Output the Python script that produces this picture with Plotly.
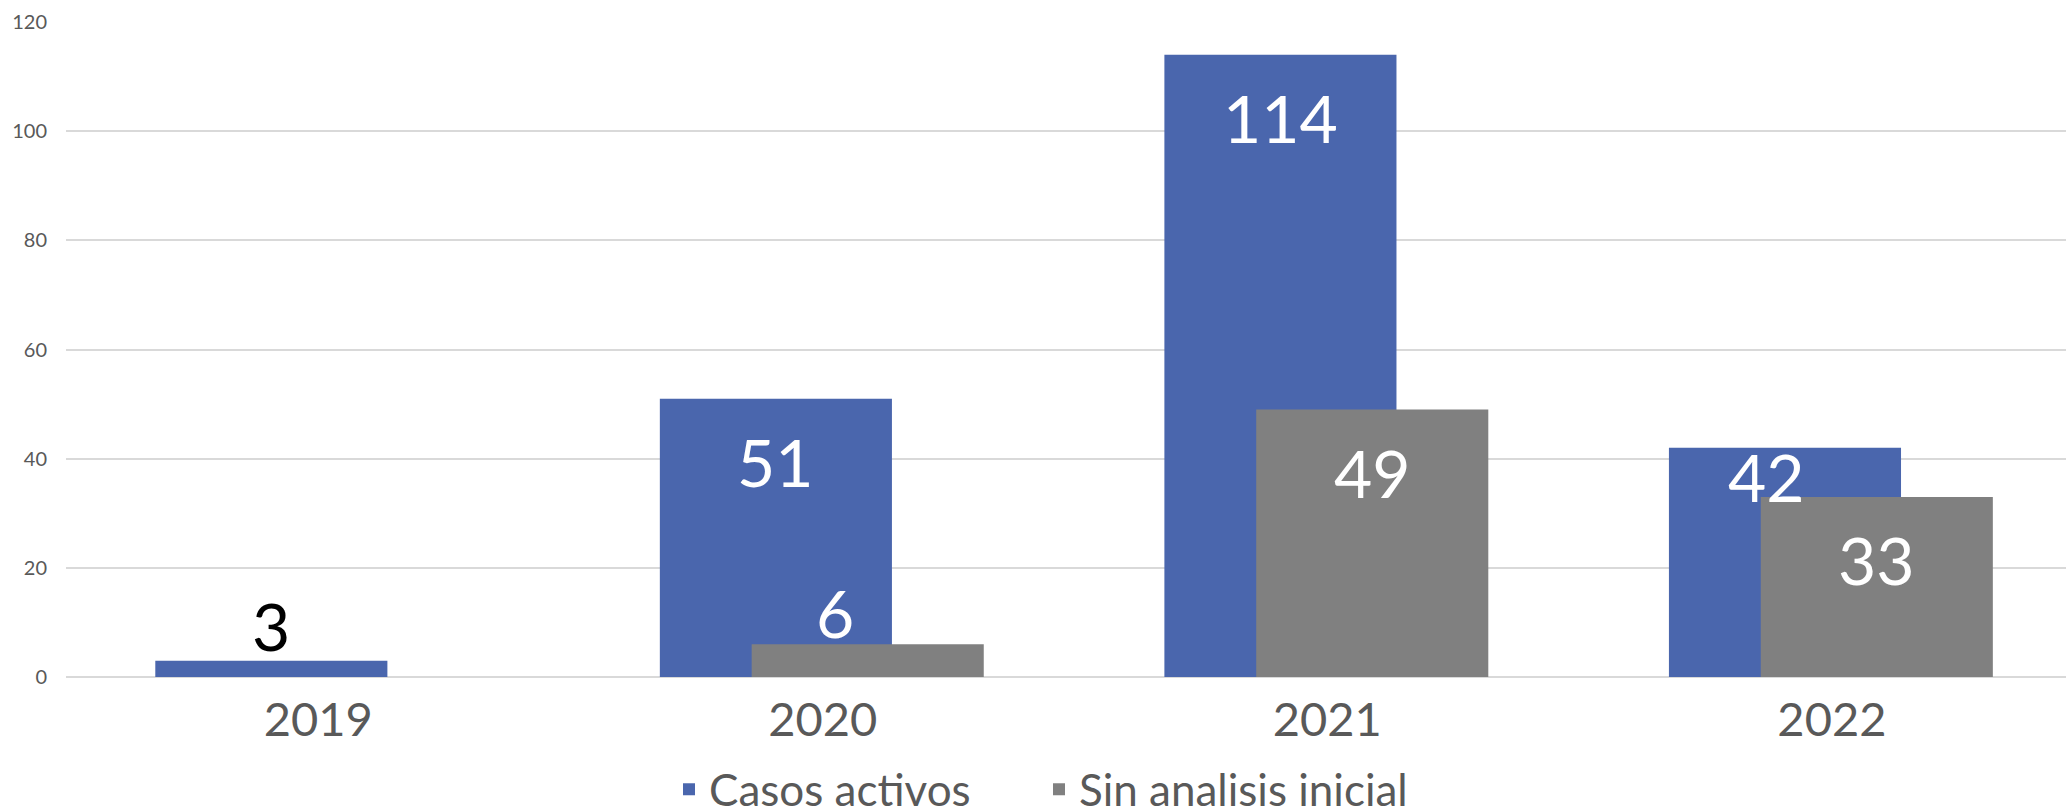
import plotly.graph_objects as go

years = ["2019", "2020", "2021", "2022"]
casos_activos = [3, 51, 114, 42]
sin_analisis = [None, 6, 49, 33]
y_ticks = [0, 20, 40, 60, 80, 100, 120]

BLUE = "#4A66AD"
GRAY = "#808080"
BAR_W = 0.46
OFF_BLUE = -0.323
OFF_GRAY = -0.141

fig = go.Figure()
fig.add_trace(go.Bar(x=years, y=casos_activos, name="Casos activos", marker_color=BLUE,
                     width=BAR_W, offset=OFF_BLUE, marker_line_width=0, legend="legend"))
fig.add_trace(go.Bar(x=years, y=sin_analisis, name="Sin analisis inicial", marker_color=GRAY,
                     width=BAR_W, offset=OFF_GRAY, marker_line_width=0, legend="legend2"))

LABEL_FONT = dict(family="Lato, 'Open Sans', sans-serif", size=66)
# label tweaks (pixel shifts x, y) for individual labels
special = {("Casos activos", "2022"): (-18, 13), ("Sin analisis inicial", "2020"): (-33, -10),
           ("Casos activos", "2019"): (0, -6)}

def add_labels(vals, name, off):
    for i, (yr, v) in enumerate(zip(years, vals)):
        if v is None:
            continue
        xc = i + off + BAR_W / 2
        small = v < 10
        xs, ys = special.get((name, yr), (0, None))
        if small:
            color = "black" if name == "Casos activos" else "white"
            fig.add_annotation(x=xc, y=v, text=str(v), showarrow=False, xref="x", yref="y",
                               yanchor="bottom", yshift=ys, xshift=xs,
                               font=dict(LABEL_FONT, color=color))
        else:
            fig.add_annotation(x=xc, y=v, text=str(v), showarrow=False, xref="x", yref="y",
                               yanchor="top", yshift=(ys if ys is not None else -21), xshift=xs,
                               font=dict(LABEL_FONT, color="white"))

add_labels(casos_activos, "Casos activos", OFF_BLUE)
add_labels(sin_analisis, "Sin analisis inicial", OFF_GRAY)

legend_common = dict(orientation="h", xanchor="left", y=-0.172, yanchor="middle",
                     font=dict(size=44, color="#595959"), itemsizing="constant",
                     bgcolor="rgba(0,0,0,0)")

fig.update_layout(
    width=2066, height=809,
    margin=dict(l=66, r=0, t=22, b=132, autoexpand=False),
    plot_bgcolor="white", paper_bgcolor="white",
    barmode="overlay",
    font=dict(family="Lato, 'Open Sans', sans-serif", color="#595959"),
    showlegend=True,
    legend=dict(legend_common, x=0.3015),
    legend2=dict(legend_common, x=0.4865),
    xaxis=dict(type="category", range=[-0.5, 3.464], showgrid=False, showline=False,
               zeroline=False, ticks="outside", ticklen=2, tickcolor="rgba(0,0,0,0)",
               tickfont=dict(size=47, color="#595959")),
    yaxis=dict(range=[0, 120], tickvals=y_ticks, showgrid=True, gridcolor="#D9D9D9",
               gridwidth=2, zeroline=True, zerolinecolor="#D9D9D9", zerolinewidth=2,
               showline=False, ticks="outside", ticklen=14, tickcolor="rgba(0,0,0,0)",
               tickfont=dict(size=20, color="#595959")),
)

fig.write_html("out.html", config={"displayModeBar": False},
               post_script="document.body.style.margin='0';document.body.style.overflow='hidden';")
